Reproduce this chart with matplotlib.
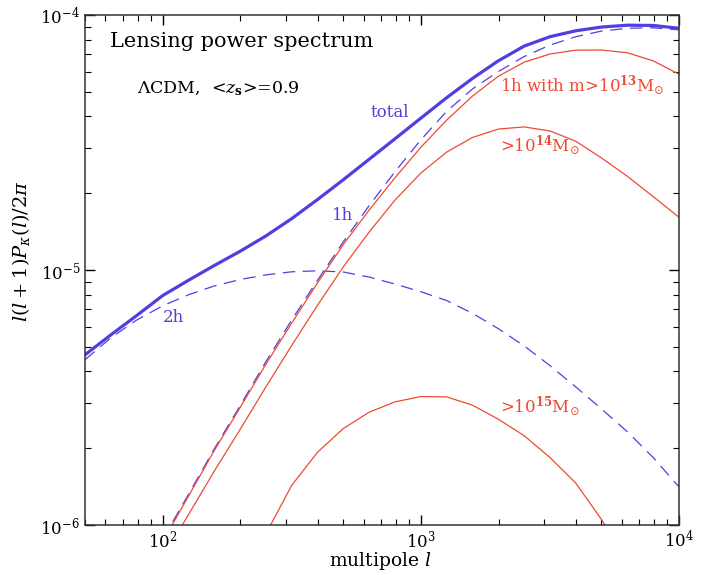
import matplotlib
matplotlib.use("Agg")
import matplotlib.pyplot as plt

plt.rcParams["font.family"] = "DejaVu Serif"
plt.rcParams["mathtext.fontset"] = "dejavuserif"

blue = "#4f3fe3"
red = "#ee4a32"

# values: multipole l and l(l+1)P_kappa(l)/2pi
l_total = [50, 63, 79, 100, 126, 158, 200, 251, 316, 398, 501, 631, 794, 1000,
           1259, 1585, 1995, 2512, 3162, 3981, 5012, 6310, 7943, 10000]
p_total = [4.65e-6, 5.57e-6, 6.61e-6, 7.94e-6, 9.12e-6, 1.04e-5, 1.186e-5, 1.36e-5,
           1.59e-5, 1.89e-5, 2.26e-5, 2.72e-5, 3.27e-5, 3.94e-5, 4.74e-5, 5.64e-5,
           6.61e-5, 7.55e-5, 8.22e-5, 8.67e-5, 8.97e-5, 9.12e-5, 9.10e-5, 8.87e-5]

l_2h = [50, 63, 79, 100, 126, 158, 200, 251, 316, 398, 501, 631, 794, 1000,
        1259, 1585, 1995, 2512, 3162, 3981, 5012, 6310, 7943, 10000]
p_2h = [4.45e-6, 5.42e-6, 6.35e-6, 7.24e-6, 8.00e-6, 8.65e-6, 9.18e-6, 9.57e-6,
        9.84e-6, 9.93e-6, 9.82e-6, 9.38e-6, 8.81e-6, 8.22e-6, 7.59e-6, 6.76e-6,
        5.89e-6, 5.04e-6, 4.22e-6, 3.48e-6, 2.85e-6, 2.32e-6, 1.84e-6, 1.41e-6]

l_1h = [100, 126, 158, 200, 251, 316, 398, 501, 631, 794, 1000,
        1259, 1585, 1995, 2512, 3162, 3981, 5012, 6310, 7943, 10000]
p_1h = [8.81e-7, 1.32e-6, 1.98e-6, 2.95e-6, 4.37e-6, 6.37e-6, 9.12e-6, 1.29e-5,
        1.79e-5, 2.43e-5, 3.24e-5, 4.19e-5, 5.13e-5, 6.00e-5, 6.87e-5, 7.62e-5,
        8.22e-5, 8.65e-5, 8.87e-5, 8.91e-5, 8.75e-5]

l_m13 = [100, 126, 158, 200, 251, 316, 398, 501, 631, 794, 1000,
         1259, 1585, 1995, 2512, 3162, 3981, 5012, 6310, 7943, 10000]
p_m13 = [8.61e-7, 1.30e-6, 1.95e-6, 2.90e-6, 4.27e-6, 6.19e-6, 8.91e-6, 1.26e-5,
         1.72e-5, 2.30e-5, 3.03e-5, 3.87e-5, 4.81e-5, 5.75e-5, 6.53e-5, 7.03e-5,
         7.28e-5, 7.29e-5, 7.11e-5, 6.61e-5, 5.86e-5]

l_m14 = [100, 126, 158, 200, 251, 316, 398, 501, 631, 794, 1000,
         1259, 1585, 1995, 2512, 3162, 3981, 5012, 6310, 7943, 10000]
p_m14 = [7.41e-7, 1.10e-6, 1.62e-6, 2.38e-6, 3.48e-6, 5.06e-6, 7.28e-6, 1.03e-5,
         1.41e-5, 1.88e-5, 2.40e-5, 2.90e-5, 3.31e-5, 3.57e-5, 3.64e-5, 3.51e-5,
         3.20e-5, 2.75e-5, 2.33e-5, 1.94e-5, 1.61e-5]

l_m15 = [251, 316, 398, 501, 631, 794, 1000, 1259, 1585, 1995, 2512, 3162,
         3981, 5012, 5623]
p_m15 = [9.23e-7, 1.43e-6, 1.93e-6, 2.39e-6, 2.77e-6, 3.04e-6, 3.19e-6, 3.18e-6,
         2.95e-6, 2.60e-6, 2.24e-6, 1.84e-6, 1.46e-6, 1.05e-6, 8.71e-7]

fig = plt.figure(figsize=(7.09, 5.75), dpi=100)
ax = fig.add_axes([85 / 709, 1 - 525 / 575, 594 / 709, 510 / 575])

ax.plot(l_total, p_total, color=blue, lw=2.3)
ax.plot(l_1h, p_1h, color=blue, lw=0.9, dashes=(10, 6))
ax.plot(l_2h, p_2h, color=blue, lw=0.9, dashes=(10, 6))
ax.plot(l_m13, p_m13, color=red, lw=0.9)
ax.plot(l_m14, p_m14, color=red, lw=0.9)
ax.plot(l_m15, p_m15, color=red, lw=0.9)

ax.set_xscale("log")
ax.set_yscale("log")
ax.set_xlim(50, 1e4)
ax.set_ylim(1e-6, 1e-4)

ax.tick_params(which="both", direction="in", top=True, right=True, labelsize=12)
ax.tick_params(which="major", length=7, width=1)
ax.tick_params(which="minor", length=4, width=0.8)
for s in ax.spines.values():
    s.set_linewidth(1.1)
    s.set_color("#333333")

ax.set_xlabel(r"multipole $l$", fontsize=13.5)
ax.xaxis.set_label_coords(0.497, -0.05)
ax.set_ylabel(r"$l(l+1)P_{\kappa}(l)/2\pi$", fontsize=14)
ax.yaxis.set_label_coords(-0.09, 0.537)

ax.text(0.042, 0.937, "Lensing power spectrum", transform=ax.transAxes, fontsize=15, va="baseline")
ax.text(0.0875, 0.847, r"$\Lambda$CDM,  <$z_\mathbf{s}$>=0.9", transform=ax.transAxes, fontsize=12.5, va="baseline")

ax.text(0.480, 0.800, "total", transform=ax.transAxes, color=blue, fontsize=12, va="baseline")
ax.text(0.416, 0.598, "1h", transform=ax.transAxes, color=blue, fontsize=12, va="baseline")
ax.text(0.131, 0.398, "2h", transform=ax.transAxes, color=blue, fontsize=12, va="baseline")

ax.text(0.699, 0.849, r"1h with m>10$^{\mathbf{13}}$M$_{\odot}$", transform=ax.transAxes, color=red, fontsize=12, va="baseline")
ax.text(0.699, 0.731, r">10$^{\mathbf{14}}$M$_{\odot}$", transform=ax.transAxes, color=red, fontsize=12, va="baseline")
ax.text(0.699, 0.220, r">10$^{\mathbf{15}}$M$_{\odot}$", transform=ax.transAxes, color=red, fontsize=12, va="baseline")

fig.savefig("out.png", dpi=100)
